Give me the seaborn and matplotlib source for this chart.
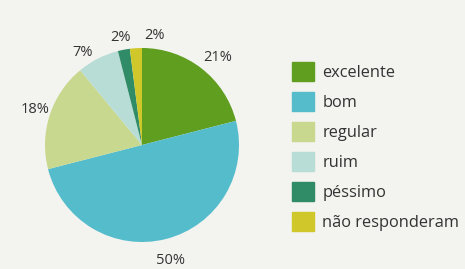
import matplotlib
matplotlib.use("Agg")
import matplotlib.pyplot as plt
import matplotlib.patches as mpatches
import seaborn as sns

categories = ["excelente", "bom", "regular", "ruim", "péssimo", "não responderam"]
values = [21, 50, 18, 7, 2, 2]
labels = ["21%", "50%", "18%", "7%", "2%", "2%"]
colors = ["#5f9e1f", "#55bccc", "#c8d98f", "#b8dcd6", "#2f8c66", "#d0c82a"]

sns.set_theme(style="white")
plt.rcParams["font.family"] = ["Open Sans", "DejaVu Sans"]

W, H = 465, 269
fig = plt.figure(figsize=(W / 100, H / 100), dpi=100)
bg = "#f3f3f0"
fig.patch.set_facecolor(bg)

cx, cy, r = 142, 145, 97
half = 130
ax = fig.add_axes([(cx - half) / W, (H - cy - half) / H, 2 * half / W, 2 * half / H])
ax.set_facecolor(bg)
palette = sns.color_palette(colors)
wedges, texts = ax.pie(values, colors=palette, startangle=90, counterclock=False,
                       labels=labels, labeldistance=1.19,
                       textprops=dict(fontsize=10.5, color="#333333", ha="center", va="center"),
                       wedgeprops=dict(linewidth=0))
# small label nudges (axis units of the pie) to follow the reference layout
nudges = [(0.05, -0.04), (0.0, -0.04), (0.03, 0.0), (-0.07, -0.11), (0.0, -0.06), (0.2, -0.06)]
for t, (dx, dy) in zip(texts, nudges):
    x, y = t.get_position()
    t.set_position((x + dx, y + dy))
lim = half / r
ax.set_xlim(-lim, lim)
ax.set_ylim(-lim, lim)
ax.set_aspect("equal")
ax.axis("off")

handles = [mpatches.Patch(color=c, label=l) for c, l in zip(palette, categories)]
leg = fig.legend(handles=handles, loc="upper left", bbox_to_anchor=(292 / W, 1 - 62 / H),
                 frameon=False, fontsize=11.8, handlelength=1.35, handleheight=1.4,
                 handletextpad=0.5, labelspacing=0.68, borderaxespad=0, borderpad=0)
for t in leg.get_texts():
    t.set_color("#333333")

fig.savefig("out.png", dpi=100, facecolor=bg)
